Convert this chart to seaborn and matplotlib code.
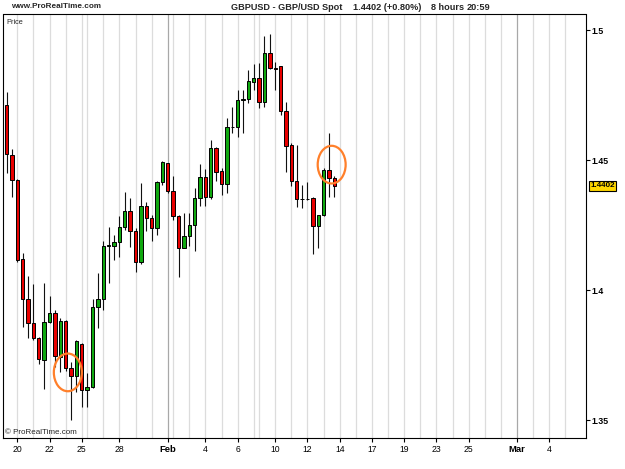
import matplotlib
matplotlib.use("Agg")
import matplotlib.pyplot as plt
from matplotlib.patches import Ellipse
from matplotlib.transforms import blended_transform_factory
import seaborn as sns
import numpy as np

# ---- data (8-hour candles, GBP/USD) ----
opens = [1.4713, 1.4520, 1.4425, 1.4121, 1.3967, 1.3874, 1.3816, 1.3733, 1.3878, 1.3912,
         1.3745, 1.3883, 1.3701, 1.3671, 1.3793, 1.3617, 1.3628, 1.3938, 1.3967, 1.4172,
         1.4172, 1.4188, 1.4245, 1.4306, 1.4229, 1.4108, 1.4325, 1.4278, 1.4239, 1.4418,
         1.4489, 1.4384, 1.4287, 1.4165, 1.4208, 1.4252, 1.4355, 1.4435, 1.4361, 1.4549,
         1.4460, 1.4408, 1.4630, 1.4628, 1.4733, 1.4735, 1.4803, 1.4818, 1.4726, 1.4912,
         1.4857, 1.4863, 1.4690, 1.4560, 1.4421, 1.4353, 1.4352, 1.4355, 1.4248, 1.4290,
         1.4463, 1.4432]
highs = [1.4762, 1.4543, 1.4428, 1.4144, 1.4056, 1.4025, 1.3822, 1.4028, 1.3979, 1.3925,
         1.3893, 1.3886, 1.3726, 1.3810, 1.3797, 1.3682, 1.3966, 1.4066, 1.4190, 1.4245,
         1.4213, 1.4287, 1.4380, 1.4355, 1.4239, 1.4412, 1.4342, 1.4290, 1.4420, 1.4499,
         1.4492, 1.4440, 1.4290, 1.4297, 1.4299, 1.4393, 1.4487, 1.4466, 1.4579, 1.4552,
         1.4470, 1.4662, 1.4705, 1.4771, 1.4771, 1.4848, 1.4870, 1.4876, 1.4979, 1.4987,
         1.4880, 1.4865, 1.4726, 1.4566, 1.4560, 1.4406, 1.4418, 1.4358, 1.4292, 1.4470,
         1.4607, 1.4440]
lows = [1.4451, 1.4358, 1.4111, 1.3861, 1.3816, 1.3810, 1.3717, 1.3620, 1.3875, 1.3707,
        1.3688, 1.3690, 1.3502, 1.3611, 1.3551, 1.3553, 1.3625, 1.3855, 1.3925, 1.4028,
        1.4117, 1.4128, 1.4233, 1.4168, 1.4072, 1.4102, 1.4229, 1.4190, 1.4213, 1.4406,
        1.4374, 1.4271, 1.4053, 1.4163, 1.4171, 1.4153, 1.4325, 1.4326, 1.4352, 1.4422,
        1.4367, 1.4374, 1.4605, 1.4589, 1.4607, 1.4722, 1.4771, 1.4701, 1.4705, 1.4850,
        1.4771, 1.4675, 1.4457, 1.4402, 1.4322, 1.4316, 1.4348, 1.4140, 1.4162, 1.4288,
        1.4361, 1.4361]
closes = [1.4525, 1.4425, 1.4117, 1.3967, 1.3874, 1.3816, 1.3735, 1.3878, 1.3912, 1.3748,
          1.3883, 1.3701, 1.3671, 1.3807, 1.3617, 1.3628, 1.3938, 1.3967, 1.4172, 1.4174,
          1.4188, 1.4245, 1.4306, 1.4230, 1.4111, 1.4325, 1.4278, 1.4239, 1.4418, 1.4493,
          1.4384, 1.4287, 1.4165, 1.4210, 1.4252, 1.4355, 1.4435, 1.4361, 1.4547, 1.4457,
          1.4410, 1.4630, 1.4628, 1.4733, 1.4735, 1.4807, 1.4816, 1.4726, 1.4912, 1.4855,
          1.4853, 1.4692, 1.4557, 1.4421, 1.4353, 1.4352, 1.4351, 1.4248, 1.4290, 1.4463,
          1.4432, 1.4402]

# x-axis (candle slot) tick labels
tick_labels = ["20", "22", "25", "28", "Feb", "4", "6", "10", "12", "14",
               "17", "19", "23", "25", "Mar", "4"]
tick_slots = [2, 8, 14, 21, 30, 37, 43, 50, 56, 62, 68, 74, 80, 86, 95, 101]
day_slots = [2, 5, 8, 11, 14, 15, 18, 21, 24, 27, 30, 31, 34, 37, 40, 43, 46, 47] + list(range(50, 106, 3))
month_slots = [30, 95]
y_ticks = [1.35, 1.4, 1.45, 1.5]
y_tick_labels = ["1.35", "1.4", "1.45", "1.5"]
highlights = [(11.4, 1.3685), (60.5, 1.4484)]

title_parts = ["GBPUSD - GBP/USD Spot", "1.4402 (+0.80%)", "8 hours", "20:59"]

# ---- style ----
sns.set_theme(style="white")
plt.rcParams["font.family"] = ["Liberation Sans", "DejaVu Sans"]

W, H = 625, 469
fig = plt.figure(figsize=(W / 100, H / 100), dpi=100)
fig.patch.set_facecolor("white")

def fx(x):
    return x / W

def fy(y):
    return 1 - y / H

left, right, top, bottom = 3, 585.7, 14.5, 438.3
ax = fig.add_axes([fx(left), fy(bottom), fx(right - left), (bottom - top) / H])
ax.set_facecolor("white")

x = np.arange(len(opens))
o = np.array(opens); c = np.array(closes); hi = np.array(highs); lo = np.array(lows)

# gridlines
for s in day_slots:
    col = "#a8a8a8" if s in month_slots else "#dcdcdc"
    ax.axvline(s, color=col, lw=0.9, zorder=0)

# wicks
ax.vlines(x, lo, hi, color="#111111", lw=0.8, zorder=2)
# bodies
up = c >= o
colors = np.where(up, "#10a810", "#e80000")
ax.bar(x, np.abs(c - o), bottom=np.minimum(o, c), width=0.62, color=colors,
       edgecolor="black", linewidth=0.7, zorder=3)

# highlight ellipses
for hx, hy in highlights:
    ax.add_patch(Ellipse((hx, hy), width=5.2, height=0.0145, fill=False,
                         edgecolor="#ff7f2a", lw=1.6, zorder=4))

ax.set_xlim(-0.66, 107.77)
ax.set_ylim(1.34315, 1.50615)

ax.set_xticks(tick_slots)
ax.set_xticklabels(tick_labels)
for lab in ax.get_xticklabels():
    lab.set_fontsize(6.2)
    if lab.get_text() in ("Feb", "Mar"):
        lab.set_fontweight("bold")
        lab.set_fontsize(6.8)
ax.yaxis.tick_right()
ax.set_yticks(y_ticks)
ax.set_yticklabels(y_tick_labels, fontsize=6.3, fontweight="bold")
ax.tick_params(axis="both", which="both", length=3, width=0.8, color="black",
               labelcolor="black", pad=1.5)
ax.tick_params(axis="x", bottom=True, top=False)
ax.tick_params(axis="y", right=True, left=False)

for sp in ax.spines.values():
    sp.set_visible(True)
    sp.set_color("black")
    sp.set_linewidth(0.8)

# last price box
trans = blended_transform_factory(ax.transAxes, ax.transData)
ax.text(1.0 + fx(5) / (fx(right - left)), closes[-1], f"{closes[-1]:.4f}", transform=trans,
        fontsize=5.8, fontweight="bold", color="black", va="center", ha="left",
        bbox=dict(boxstyle="square,pad=0.15", facecolor="#ffd700", edgecolor="black", lw=0.8),
        clip_on=False)

# header texts
fig.text(fx(11), fy(7), "www.ProRealTime.com", fontsize=5.9, fontweight="bold", va="center", ha="left")
for px_, txt in zip([231, 353, 431, 467], title_parts):
    fig.text(fx(px_), fy(7), txt, fontsize=6.6, fontweight="bold", va="center", ha="left")

ax.text(0.005, 0.99, "Price", transform=ax.transAxes, fontsize=5.3, va="top", ha="left")
ax.text(0.003, 0.005, "\u00a9 ProRealTime.com", transform=ax.transAxes, fontsize=5.8,
        va="bottom", ha="left")

fig.savefig("out.png", dpi=100, facecolor="white")
